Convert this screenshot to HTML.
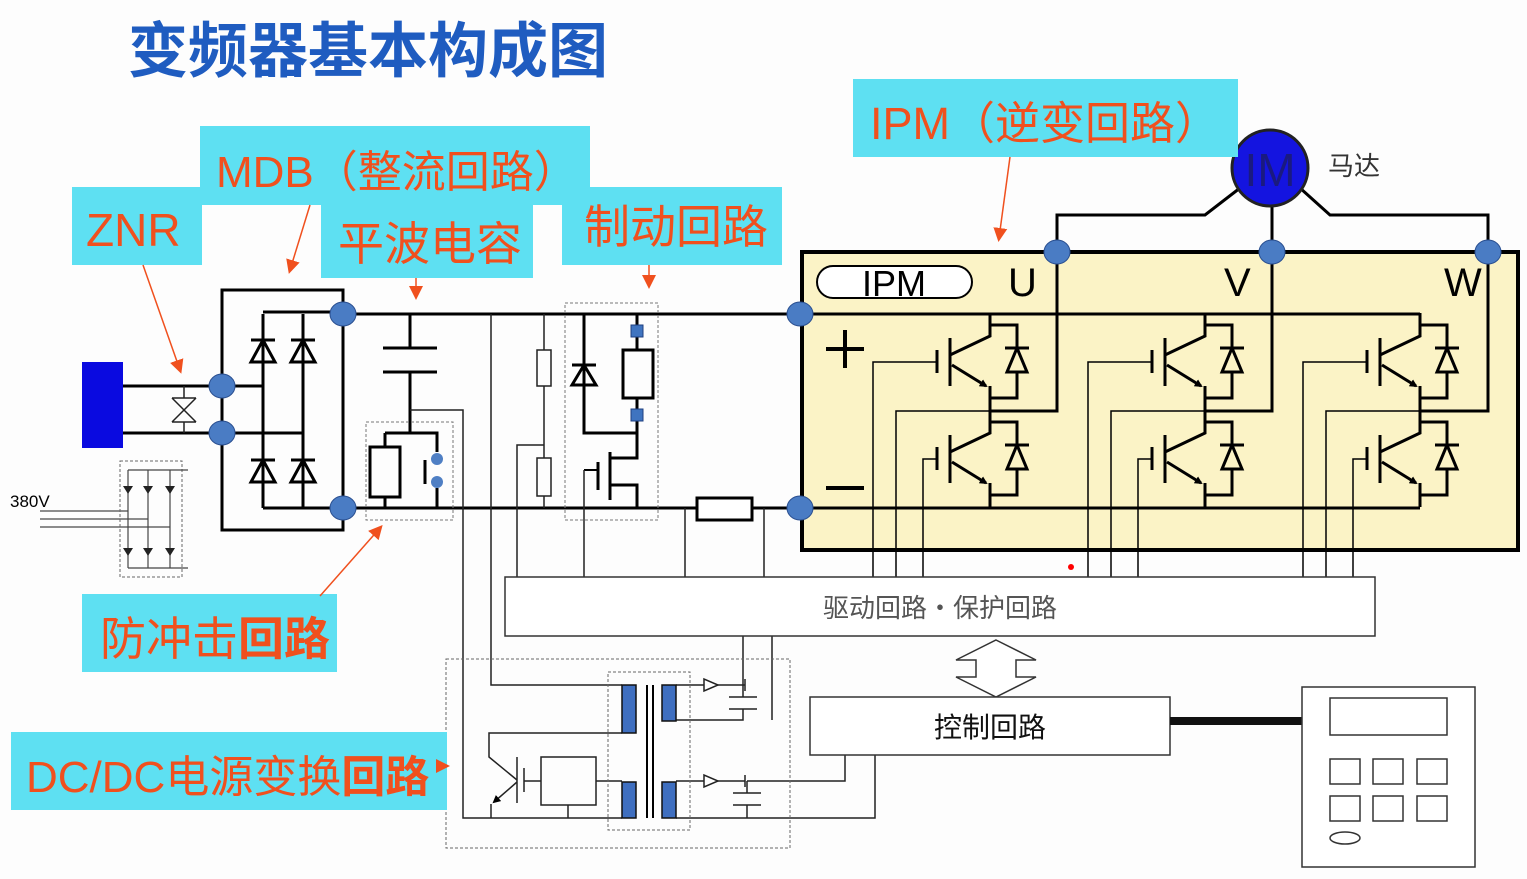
<!DOCTYPE html>
<html><head><meta charset="utf-8"><style>
html,body{margin:0;padding:0;background:#fdfdfd;}
svg{display:block;}
.lb{font-family:"Liberation Sans","Noto Sans CJK SC",sans-serif;fill:#f0501e;}
</style></head><body>
<svg width="1527" height="879" viewBox="0 0 1527 879" xmlns="http://www.w3.org/2000/svg">
<defs>
<marker id="ar" markerWidth="8" markerHeight="8" refX="6" refY="4" orient="auto" markerUnits="userSpaceOnUse"><path d="M0,0 L8,4 L0,8z" fill="#000"/></marker>
<marker id="oa" markerWidth="14" markerHeight="14" refX="10" refY="7" orient="auto" markerUnits="userSpaceOnUse"><path d="M0,0 L14,7 L0,14z" fill="#f0501e"/></marker>
<g id="ph" fill="none" stroke="#000" stroke-width="3">
 <path d="M0,313 V336 L-40,355"/><path d="M-40,338 V386"/><path d="M-53,350 V373"/>
 <path d="M-38,365 L-4,386" marker-end="url(#ar)"/><path d="M0,386 V420"/>
 <path d="M0,325 H27 V348 M15,348 H39 M27,372 V398 H0"/><path d="M27,348 L17,372 H37 Z"/>
 <path d="M0,420 V433 L-40,452"/><path d="M-40,435 V483"/><path d="M-53,447 V470"/>
 <path d="M-38,462 L-4,483" marker-end="url(#ar)"/><path d="M0,483 V507"/>
 <path d="M0,422 H27 V445 M15,445 H39 M27,469 V495 H0"/><path d="M27,445 L17,469 H37 Z"/>
 <g stroke-width="1.5"><path d="M-53,362 H-117 V577"/><path d="M-94,577 V411 H0"/><path d="M-53,459 H-67 V577"/></g>
</g>
</defs>

<!-- title -->
<text x="128" y="72" font-family="Liberation Sans,'Noto Sans CJK SC',sans-serif" font-size="60" font-weight="bold" fill="#1f5cc0">变频器基本构成图</text>

<!-- IPM yellow box -->
<rect x="802" y="252" width="716" height="298" fill="#fbf3c6" stroke="#000" stroke-width="4"/>
<rect x="817" y="266" width="155" height="32" rx="16" fill="#fff" stroke="#000" stroke-width="2"/>
<text x="894" y="296" font-family="Liberation Sans,sans-serif" font-size="36" text-anchor="middle">IPM</text>
<text x="1008" y="296" font-family="Liberation Sans,sans-serif" font-size="40">U</text>
<text x="1224" y="296" font-family="Liberation Sans,sans-serif" font-size="40">V</text>
<text x="1444" y="296" font-family="Liberation Sans,sans-serif" font-size="40">W</text>
<path d="M826,349 H864 M845,330 V368" stroke="#000" stroke-width="4"/>
<path d="M826,488 H864" stroke="#000" stroke-width="4"/>

<!-- bus -->
<g stroke="#000" stroke-width="3" fill="none">
<path d="M343,314 H1420"/><path d="M343,508 H1420"/>
<path d="M123,386 H263"/><path d="M123,433 H303"/>
<rect x="222" y="290" width="121" height="240"/>
<path d="M263,314 V508 M303,314 V508 M263,312 H343 M263,508 H343"/>
<path d="M251,340 H275 M263,340 L251,362 H275 Z M291,340 H315 M303,340 L291,362 H315 Z"/>
<path d="M251,460 H275 M263,460 L251,482 H275 Z M291,460 H315 M303,460 L291,482 H315 Z"/>
<!-- capacitor -->
<path d="M410,314 V348 M383,348 H437 M383,372 H437 M410,372 V433"/>
<path d="M385,433 H437 V452 M385,433 V447 M385,497 V508 M437,488 V508"/>
<rect x="370" y="447" width="30" height="50"/>
<path d="M425,460 V484" stroke-width="3"/>
<!-- phase outputs -->
<path d="M1057,252 V411 H990"/><path d="M1272,252 V411 H1205"/><path d="M1488,252 V411 H1420"/>
<path d="M1057,252 V215 H1205 L1240,188 M1272,252 V200 M1488,252 V215 H1330 L1300,188"/>
<!-- braking -->
<path d="M584,314 V433 H637 M572,365 H596 M584,365 L572,385 H596 Z M637,314 V350 M637,398 V458 M623,350 H653 V398 H623 Z"/>
<path d="M637,433 V458 H610 M610,452 V500 M610,485 H637 V508 M598,462 V490"/>
<rect x="697" y="498" width="55" height="22" fill="#fff"/>
</g>
<path d="M584,470 H598" stroke="#000" stroke-width="2"/>
<rect x="631" y="325" width="12" height="12" fill="#3f74c0" stroke="#1f3f80"/>
<rect x="631" y="409" width="12" height="12" fill="#3f74c0" stroke="#1f3f80"/>
<rect x="565" y="303" width="93" height="217" fill="none" stroke="#777" stroke-dasharray="3,2"/>
<rect x="366" y="422" width="87" height="98" fill="none" stroke="#777" stroke-dasharray="3,2"/>
<circle cx="437" cy="459" r="6" fill="#4f7fc4"/><circle cx="437" cy="482" r="6" fill="#4f7fc4"/>

<!-- thin wires -->
<g stroke="#222" stroke-width="1.5" fill="none">
<path d="M544,314 V350 M537,350 H551 V386 H537 Z M544,386 V458 M537,458 H551 V496 H537 Z M544,496 V508"/>
<path d="M544,445 H517 V577 M584,470 V577 M685,508 V577 M764,508 V577"/>
<path d="M491,314 V685 H622"/><path d="M410,410 H463 V818 H622"/>
<path d="M676,685 H745 M745,679 V691 M727,685 H745" /><path d="M743,685 V636 M729,697 H757 M729,709 H757 M743,697 V685 M743,709 V720 H676 M772,720 V630"/>
<path d="M676,781 H745 M745,775 V787 M747,781 V793 M733,793 H761 M733,805 H761 M747,805 V818 M676,818 H875 V748 M747,781 H845 V755"/>
<path d="M622,733 H489 V757 L517,780"/><path d="M517,782 L494,802" marker-end="url(#ar)"/><path d="M491,804 V818"/>
<path d="M517,757 V803 M524,768 V792 M524,781 H541"/>
<rect x="541" y="757" width="55" height="48"/><path d="M568,805 V818 M596,781 H622"/>
</g>
<path d="M704,679 V691 L718,685 Z M704,775 V787 L718,781 Z" fill="#fff" stroke="#222" stroke-width="1.5"/>
<rect x="446" y="659" width="344" height="189" fill="none" stroke="#666" stroke-dasharray="3,2"/>
<rect x="608" y="672" width="82" height="158" fill="none" stroke="#666" stroke-dasharray="3,2"/>
<g fill="#3f6fc0" stroke="#111" stroke-width="1.5">
<rect x="622" y="685" width="14" height="48"/><rect x="622" y="782" width="14" height="36"/>
<rect x="662" y="685" width="14" height="36"/><rect x="662" y="782" width="14" height="36"/>
</g>
<path d="M647,685 V818 M653,685 V818" stroke="#000" stroke-width="2"/>

<!-- phases -->
<use href="#ph" x="990"/>
<g transform="translate(215,0)"><use href="#ph" x="990"/></g>
<g transform="translate(430,0)"><use href="#ph" x="990"/></g>

<!-- nodes -->
<g fill="#4a7cc4" stroke="#2a4f90" stroke-width="1">
<ellipse cx="222" cy="386" rx="13" ry="12"/><ellipse cx="222" cy="433" rx="13" ry="12"/>
<ellipse cx="343" cy="314" rx="13" ry="12"/><ellipse cx="343" cy="508" rx="13" ry="12"/>
<ellipse cx="800" cy="314" rx="13" ry="12"/><ellipse cx="800" cy="508" rx="13" ry="12"/>
<ellipse cx="1057" cy="252" rx="13" ry="12"/><ellipse cx="1272" cy="252" rx="13" ry="12"/><ellipse cx="1488" cy="252" rx="13" ry="12"/>
</g>
<!-- motor -->
<circle cx="1270" cy="168" r="38" fill="#1414e0" stroke="#222" stroke-width="3"/>
<text x="1270" y="186" font-family="Liberation Sans,sans-serif" font-size="46" text-anchor="middle" fill="#1a1a80">IM</text>
<text x="1328" y="175" font-family="'Noto Sans CJK SC',sans-serif" font-size="26" fill="#333">马达</text>

<!-- power source -->
<rect x="82" y="362" width="41" height="86" fill="#0a0ae0"/>
<path d="M172,398 H196 M172,422 H196 M172,398 L196,422 M196,398 L172,422 M184,386 V398 M184,422 V433" stroke="#222" stroke-width="1.5" fill="none"/>
<text x="10" y="507" font-family="Liberation Sans,sans-serif" font-size="17">380V</text>
<path d="M40,511 H128 M40,519 H148 M40,527 H170" stroke="#666" stroke-width="1.5"/>
<rect x="120" y="461" width="62" height="116" fill="none" stroke="#666" stroke-dasharray="3,2"/>
<path d="M128,470 H188 M128,568 H188 M128,470 V568 M148,470 V568 M170,470 V568" stroke="#444" stroke-width="1.2" fill="none"/>
<path d="M123,486 H133 L128,494Z M143,486 H153 L148,494Z M165,486 H175 L170,494Z M123,548 H133 L128,556Z M143,548 H153 L148,556Z M165,548 H175 L170,556Z" fill="#222"/>

<!-- drive & control -->
<rect x="505" y="577" width="870" height="59" fill="#fff" stroke="#333" stroke-width="1.5"/>
<text x="940" y="617" font-family="'Noto Sans CJK SC',sans-serif" font-size="26" fill="#555" text-anchor="middle">驱动回路·保护回路</text>
<path d="M996,640 L1036,660 H1016 V677 H1036 L996,697 L956,677 H976 V660 H956 Z" fill="#fff" stroke="#333" stroke-width="1.5"/>
<rect x="810" y="697" width="360" height="58" fill="#fff" stroke="#333" stroke-width="1.5"/>
<text x="990" y="737" font-family="'Noto Sans CJK SC',sans-serif" font-size="28" text-anchor="middle" fill="#111">控制回路</text>
<path d="M1170,721 H1302" stroke="#111" stroke-width="8"/>
<rect x="1302" y="687" width="173" height="180" fill="#fff" stroke="#333" stroke-width="1.5"/>
<g fill="none" stroke="#333" stroke-width="1.5">
<rect x="1330" y="698" width="117" height="37"/>
<rect x="1330" y="759" width="30" height="25"/><rect x="1373" y="759" width="30" height="25"/><rect x="1417" y="759" width="30" height="25"/>
<rect x="1330" y="796" width="30" height="25"/><rect x="1373" y="796" width="30" height="25"/><rect x="1417" y="796" width="30" height="25"/>
<ellipse cx="1345" cy="838" rx="15" ry="6"/>
</g>
<circle cx="1071" cy="567" r="3" fill="#f00"/>

<!-- labels -->
<g fill="#5ee0f2">
<rect x="72" y="187" width="130" height="78"/><rect x="200" y="126" width="390" height="79"/>
<rect x="321" y="205" width="212" height="73"/><rect x="562" y="187" width="220" height="78"/>
<rect x="853" y="79" width="385" height="78"/><rect x="82" y="594" width="255" height="78"/>
<rect x="11" y="732" width="436" height="78"/>
</g>
<text class="lb" x="86" y="246" font-size="46">ZNR</text>
<text class="lb" x="216" y="187" font-size="44">MDB（整流回路）</text>
<text class="lb" x="338" y="260" font-size="46">平波电容</text>
<text class="lb" x="584" y="243" font-size="46">制动回路</text>
<text class="lb" x="870" y="139" font-size="45">IPM（逆变回路）</text>
<text class="lb" x="100" y="655" font-size="46">防冲击<tspan font-weight="bold">回路</tspan></text>
<text class="lb" x="26" y="792" font-size="44">DC/DC电源变换<tspan font-weight="bold">回路</tspan></text>
<g stroke="#f0501e" stroke-width="1.5" fill="none">
<path d="M143,265 L180,370" marker-end="url(#oa)"/>
<path d="M310,205 L290,270" marker-end="url(#oa)"/>
<path d="M416,278 V296" marker-end="url(#oa)"/>
<path d="M649,265 V285" marker-end="url(#oa)"/>
<path d="M1010,157 L999,238" marker-end="url(#oa)"/>
<path d="M320,596 L380,528" marker-end="url(#oa)"/>
<path d="M436,766 H446" marker-end="url(#oa)"/>
</g>
</svg>
</body></html>
